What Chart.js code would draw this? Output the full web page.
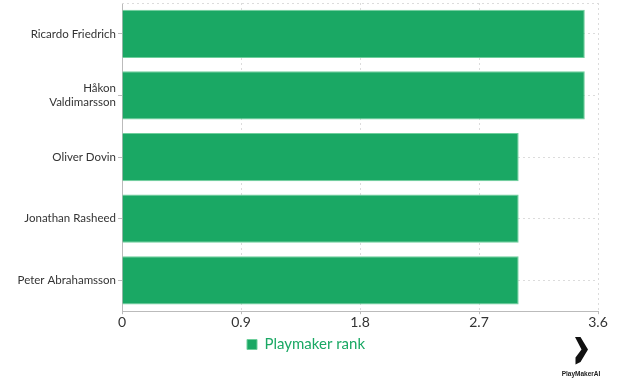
<!DOCTYPE html>
<html>
<head>
<meta charset="utf-8">
<script src="https://cdn.jsdelivr.net/npm/chart.js@4/dist/chart.umd.min.js"></script>
<style>
  html, body { margin: 0; padding: 0; background: #fff; }
  #wrap { position: relative; width: 620px; height: 379px; }
  #logo { position: absolute; left: 556px; top: 337px; width: 50px; text-align: center; }
  #logo span { display: block; font: bold 6.5px "Liberation Sans", Arial, sans-serif; color: #222; margin-top: 1px; }
</style>
</head>
<body>
<div id="wrap">
  <canvas id="rankChart" width="620" height="379"></canvas>
  <div id="logo">
    <svg width="15" height="28" viewBox="0 0 15 28"><path d="M1,0 L6.5,0 L14,12.5 L6.5,25 L1.5,27.5 L1.5,20.5 L7.5,12.5 Z" fill="#111"/></svg>
    <span>PlayMakerAI</span>
  </div>
</div>
<script>
const players = ["Ricardo Friedrich", ["Håkon", "Valdimarsson"], "Oliver Dovin", "Jonathan Rasheed", "Peter Abrahamsson"];
const rankValues = [3.5, 3.5, 3, 3, 3];
const xTicks = [0, 0.9, 1.8, 2.7, 3.6];

const green = "#1aa864";
const gridColor = "#dcdcdc";

// dotted line along the top of the plot
const topBorder = {
  id: "topBorder",
  beforeDatasetsDraw(chart) {
    const { ctx, chartArea } = chart;
    ctx.save();
    ctx.strokeStyle = gridColor;
    ctx.lineWidth = 1;
    ctx.setLineDash([2, 3]);
    ctx.beginPath();
    ctx.moveTo(chartArea.left, chartArea.top + 0.5);
    ctx.lineTo(chartArea.right, chartArea.top + 0.5);
    ctx.stroke();
    ctx.restore();
  }
};

const ctx = document.getElementById("rankChart").getContext("2d");
new Chart(ctx, {
  type: "bar",
  data: {
    labels: players,
    datasets: [{
      label: "Playmaker rank",
      data: rankValues,
      backgroundColor: green,
      borderColor: "#6fcf9c",
      borderWidth: 1,
      barPercentage: 0.9,
      categoryPercentage: 0.87
    }]
  },
  options: {
    indexAxis: "y",
    responsive: false,
    animation: false,
    layout: { padding: { left: 14, right: 22, top: 3, bottom: 17 } },
    plugins: {
      tooltip: { enabled: false },
      legend: {
        position: "bottom",
        labels: {
          boxWidth: 10,
          boxHeight: 10,
          color: green,
          padding: 6,
          font: { family: "Lato", size: 15 }
        }
      }
    },
    scales: {
      x: {
        min: 0,
        max: 3.6,
        afterBuildTicks: (scale) => { scale.ticks = xTicks.map(v => ({ value: v })); },
        ticks: { color: "#333", font: { family: "Lato", size: 14 }, padding: 0 },
        grid: { color: gridColor, tickColor: "#bbb", tickLength: 3 },
        border: { color: "#bbb", dash: [2, 3] }
      },
      y: {
        afterFit: (scale) => {
          scale.width = 108;
          scale.paddingTop = 0;
          scale.paddingBottom = 0;
        },
        ticks: { color: "#333", font: { family: "Lato", size: 11.5 }, padding: 2 },
        grid: { offset: false, color: gridColor, tickColor: "#bbb", tickLength: 4 },
        border: { color: "#bbb", dash: [2, 3] }
      }
    }
  },
  plugins: [topBorder]
});
</script>
</body>
</html>
